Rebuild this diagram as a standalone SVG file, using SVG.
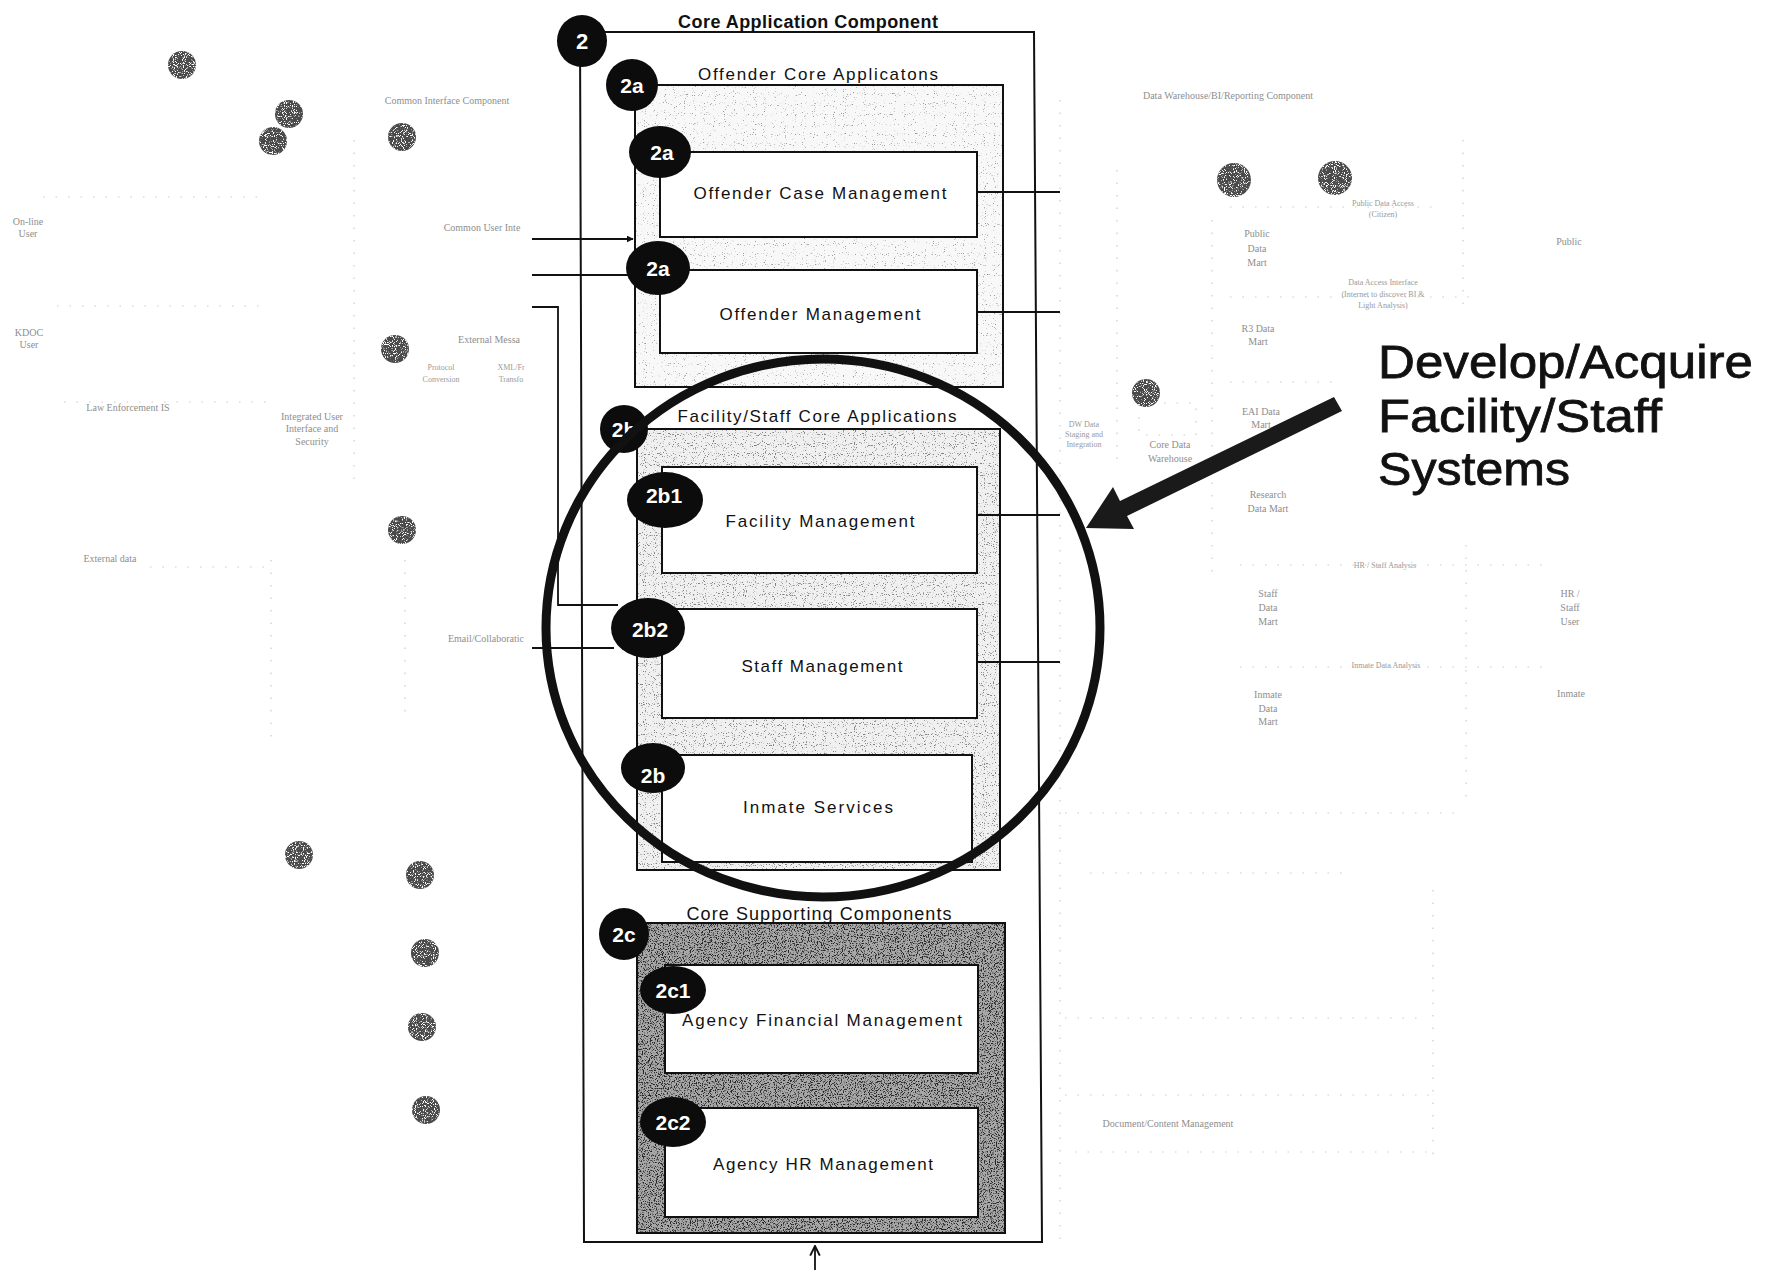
<svg xmlns="http://www.w3.org/2000/svg" width="1767" height="1270" viewBox="0 0 1767 1270">
  <defs>
    <style>
      .box { fill: #fff; stroke: #111; stroke-width: 2; }
      .frame { fill: none; stroke: #111; stroke-width: 2; }
      .lbl { font-family: "Liberation Sans", Arial, sans-serif; font-size: 17px; fill: #111; text-anchor: middle; }
      .ttl { font-family: "Liberation Sans", Arial, sans-serif; font-size: 17px; fill: #111; text-anchor: middle; }
      .badge ellipse { fill: #0c0c0c; }
      .badge text { font-family: "Liberation Sans", Arial, sans-serif; font-weight: bold; font-size: 21px; fill: #fff; text-anchor: middle; }
      .ghost { fill: #4a4a4a; filter: url(#speckle); }
      .faint { font-family: "Liberation Serif", "Times New Roman", serif; font-size: 10px; fill: #8e8e8e; text-anchor: middle; }
      .faint-s { font-family: "Liberation Serif", "Times New Roman", serif; font-size: 8px; fill: #9a9a9a; text-anchor: middle; }
      .dots { fill: none; stroke: #cccccc; stroke-width: 1.2; stroke-dasharray: 1.5 11; }
      .wire { fill: none; stroke: #111; stroke-width: 1.8; }
      .callout { font-family: "Liberation Sans", Arial, sans-serif; font-size: 47px; fill: #111; stroke: #111; stroke-width: 0.8; }
    </style>
    <!-- sparse grey grain for the light application groups -->
    <filter id="grainLight" x="0" y="0" width="1" height="1" color-interpolation-filters="sRGB">
      <feTurbulence type="fractalNoise" baseFrequency="0.9" numOctaves="1" seed="2" result="t"/>
      <feColorMatrix in="t" type="matrix" values="0 0 0 0 0.6  0 0 0 0 0.6  0 0 0 0 0.6  10 0 0 0 -6.5" result="d"/>
      <feComposite in="d" in2="SourceAlpha" operator="in" result="m"/>
      <feMerge><feMergeNode in="SourceGraphic"/><feMergeNode in="m"/></feMerge>
    </filter>
    <filter id="grainMid" x="0" y="0" width="1" height="1" color-interpolation-filters="sRGB">
      <feTurbulence type="fractalNoise" baseFrequency="0.9" numOctaves="1" seed="5" result="t"/>
      <feColorMatrix in="t" type="matrix" values="0 0 0 0 0.5  0 0 0 0 0.5  0 0 0 0 0.5  10 0 0 0 -6.1" result="d"/>
      <feComposite in="d" in2="SourceAlpha" operator="in" result="m"/>
      <feMerge><feMergeNode in="SourceGraphic"/><feMergeNode in="m"/></feMerge>
    </filter>
    <!-- dense dark grain for the supporting components group -->
    <filter id="grainDark" x="0" y="0" width="1" height="1" color-interpolation-filters="sRGB">
      <feTurbulence type="fractalNoise" baseFrequency="0.85" numOctaves="2" seed="9" result="t"/>
      <feColorMatrix in="t" type="matrix" values="0 0 0 0 0.15  0 0 0 0 0.15  0 0 0 0 0.15  7 0 0 0 -3.6" result="d"/>
      <feComposite in="d" in2="SourceAlpha" operator="in" result="m"/>
      <feMerge><feMergeNode in="SourceGraphic"/><feMergeNode in="m"/></feMerge>
    </filter>
    <filter id="speckle" x="0" y="0" width="1" height="1" color-interpolation-filters="sRGB">
      <feTurbulence type="fractalNoise" baseFrequency="1.1" numOctaves="1" seed="3" result="t"/>
      <feColorMatrix in="t" type="matrix" values="0 0 0 0 1  0 0 0 0 1  0 0 0 0 1  9 0 0 0 -4.9" result="d"/>
      <feComposite in="d" in2="SourceAlpha" operator="in" result="m"/>
      <feMerge><feMergeNode in="SourceGraphic"/><feMergeNode in="m"/></feMerge>
    </filter>
    <marker id="tip" viewBox="0 0 10 10" refX="9" refY="5" markerWidth="7" markerHeight="7" markerUnits="userSpaceOnUse" orient="auto">
      <path d="M0,0 L10,5 L0,10 z" fill="#111"/>
    </marker>
    <marker id="tipUp" viewBox="0 0 10 10" refX="9" refY="5" markerWidth="12" markerHeight="12" markerUnits="userSpaceOnUse" orient="auto">
      <path d="M1,1 L9,5 L1,9" fill="none" stroke="#111" stroke-width="1.6"/>
    </marker>
  </defs>

  <rect width="1767" height="1270" fill="#fff"/>

  <!-- faded surrounding architecture: dotted guides -->
  <g id="faded-guides">
    <path class="dots" d="M43,197 H266 M57,306 H268 M64,402 H268 M150,567 H270"/>
    <path class="dots" d="M354,140 V480 M405,560 V720 M271,560 V740"/>
    <path class="dots" d="M1060,100 V1240 M1117,170 V470 M1212,220 V575 M1463,140 V310 M1466,545 V800"/>
    <path class="dots" d="M1230,207 H1440 M1230,297 H1470 M1230,382 H1340 M1240,565 H1545 M1240,667 H1545"/>
    <path class="dots" d="M1065,813 H1465 M1090,873 H1350 M1065,1018 H1420 M1065,1095 H1430 M1075,1152 H1430 M1433,890 V1160"/>
    <rect x="1139" y="403" width="57" height="32" class="dots"/>
  </g>

  <!-- faded surrounding architecture: labels -->
  <g id="faded-labels">
    <text class="faint" x="447" y="104">Common Interface Component</text>
    <text class="faint" x="28" y="225">On-line</text>
    <text class="faint" x="28" y="237">User</text>
    <text class="faint" x="482" y="231">Common User Inte</text>
    <text class="faint" x="29" y="336">KDOC</text>
    <text class="faint" x="29" y="348">User</text>
    <text class="faint" x="489" y="343">External Messa</text>
    <text class="faint-s" x="441" y="370">Protocol</text>
    <text class="faint-s" x="441" y="382">Conversion</text>
    <text class="faint-s" x="511" y="370">XML/Fr</text>
    <text class="faint-s" x="511" y="382">Transfo</text>
    <text class="faint" x="128" y="411">Law Enforcement IS</text>
    <text class="faint" x="312" y="420">Integrated User</text>
    <text class="faint" x="312" y="432">Interface and</text>
    <text class="faint" x="312" y="445">Security</text>
    <text class="faint" x="110" y="562">External data</text>
    <text class="faint" x="486" y="642">Email/Collaboratic</text>

    <text class="faint" x="1228" y="99">Data Warehouse/BI/Reporting Component</text>
    <text class="faint-s" x="1383" y="206">Public Data Access</text>
    <text class="faint-s" x="1383" y="217">(Citizen)</text>
    <text class="faint" x="1257" y="237">Public</text>
    <text class="faint" x="1257" y="252">Data</text>
    <text class="faint" x="1257" y="266">Mart</text>
    <text class="faint" x="1569" y="245">Public</text>
    <text class="faint-s" x="1383" y="285">Data Access Interface</text>
    <text class="faint-s" x="1383" y="297">(Internet to discover BI &amp;</text>
    <text class="faint-s" x="1383" y="308">Light Analysis)</text>
    <text class="faint" x="1258" y="332">R3 Data</text>
    <text class="faint" x="1258" y="345">Mart</text>
    <text class="faint" x="1261" y="415">EAI Data</text>
    <text class="faint" x="1261" y="428">Mart</text>
    <text class="faint-s" x="1084" y="427">DW Data</text>
    <text class="faint-s" x="1084" y="437">Staging and</text>
    <text class="faint-s" x="1084" y="447">Integration</text>
    <text class="faint" x="1170" y="448">Core Data</text>
    <text class="faint" x="1170" y="462">Warehouse</text>
    <text class="faint" x="1268" y="498">Research</text>
    <text class="faint" x="1268" y="512">Data Mart</text>
    <text class="faint-s" x="1385" y="568">HR / Staff Analysis</text>
    <text class="faint" x="1268" y="597">Staff</text>
    <text class="faint" x="1268" y="611">Data</text>
    <text class="faint" x="1268" y="625">Mart</text>
    <text class="faint" x="1570" y="597">HR /</text>
    <text class="faint" x="1570" y="611">Staff</text>
    <text class="faint" x="1570" y="625">User</text>
    <text class="faint-s" x="1386" y="668">Inmate Data Analysis</text>
    <text class="faint" x="1268" y="698">Inmate</text>
    <text class="faint" x="1268" y="712">Data</text>
    <text class="faint" x="1268" y="725">Mart</text>
    <text class="faint" x="1571" y="697">Inmate</text>
    <text class="faint" x="1168" y="1127">Document/Content Management</text>
  </g>

  <!-- faded numbered markers of the surrounding components -->
  <g id="faded-markers">
    <circle class="ghost" cx="182" cy="65" r="14"/>
    <circle class="ghost" cx="289" cy="114" r="14"/>
    <circle class="ghost" cx="273" cy="141" r="14"/>
    <circle class="ghost" cx="402" cy="137" r="14"/>
    <circle class="ghost" cx="395" cy="349" r="14"/>
    <circle class="ghost" cx="402" cy="530" r="14"/>
    <circle class="ghost" cx="299" cy="855" r="14"/>
    <circle class="ghost" cx="420" cy="875" r="14"/>
    <circle class="ghost" cx="425" cy="953" r="14"/>
    <circle class="ghost" cx="422" cy="1027" r="14"/>
    <circle class="ghost" cx="426" cy="1110" r="14"/>
    <circle class="ghost" cx="1234" cy="180" r="17"/>
    <circle class="ghost" cx="1335" cy="178" r="17"/>
    <circle class="ghost" cx="1146" cy="393" r="14"/>
  </g>

  <!-- Core Application Component container -->
  <g id="core-application">
    <polygon class="frame" points="580,32 1034,32 1042,1242 584,1242"/>
    <text x="808" y="28" textLength="260" lengthAdjust="spacing" style="font-family:'Liberation Sans',Arial,sans-serif;font-size:18px;font-weight:bold;fill:#111;text-anchor:middle">Core Application Component</text>
  </g>

  <!-- 2a: Offender Core Applications -->
  <g id="offender-core">
    <rect x="635" y="85" width="368" height="302" fill="#f8f8f8" filter="url(#grainLight)"/>
    <rect x="635" y="85" width="368" height="302" class="frame"/>
    <text class="ttl" x="818" y="80" textLength="240" lengthAdjust="spacing">Offender Core Applicatons</text>
  </g>
  <g id="offender-case-management">
    <rect class="box" x="660" y="152" width="317" height="85"/>
    <text class="lbl" x="820" y="199" textLength="253" lengthAdjust="spacing">Offender Case Management</text>
  </g>
  <g id="offender-management">
    <rect class="box" x="660" y="270" width="317" height="83"/>
    <text class="lbl" x="820" y="320" textLength="201" lengthAdjust="spacing">Offender Management</text>
  </g>

  <!-- 2b: Facility/Staff Core Applications -->
  <g id="facility-staff-core">
    <rect x="637" y="429" width="363" height="441" fill="#f0f0f0" filter="url(#grainMid)"/>
    <rect x="637" y="429" width="363" height="441" class="frame"/>
    <text class="ttl" x="817" y="422" textLength="279" lengthAdjust="spacing">Facility/Staff Core Applications</text>
  </g>
  <g id="facility-management">
    <rect class="box" x="662" y="467" width="315" height="106"/>
    <text class="lbl" x="820" y="527" textLength="189" lengthAdjust="spacing">Facility Management</text>
  </g>
  <g id="staff-management">
    <rect class="box" x="662" y="609" width="315" height="109"/>
    <text class="lbl" x="822" y="672" textLength="161" lengthAdjust="spacing">Staff Management</text>
  </g>
  <g id="inmate-services">
    <rect class="box" x="662" y="755" width="310" height="107"/>
    <text class="lbl" x="818" y="813" textLength="150" lengthAdjust="spacing">Inmate Services</text>
  </g>

  <!-- 2c: Core Supporting Components -->
  <g id="core-supporting">
    <rect x="637" y="923" width="368" height="310" fill="#a8a8a8" filter="url(#grainDark)"/>
    <rect x="637" y="923" width="368" height="310" class="frame"/>
    <text x="819" y="920" textLength="265" lengthAdjust="spacing" style="font-family:'Liberation Sans',Arial,sans-serif;font-size:18px;fill:#111;text-anchor:middle">Core Supporting Components</text>
  </g>
  <g id="agency-financial-management">
    <rect class="box" x="665" y="965" width="313" height="108"/>
    <text class="lbl" x="822" y="1026" textLength="280" lengthAdjust="spacing">Agency Financial Management</text>
  </g>
  <g id="agency-hr-management">
    <rect class="box" x="665" y="1108" width="313" height="109"/>
    <text class="lbl" x="823" y="1170" textLength="220" lengthAdjust="spacing">Agency HR Management</text>
  </g>

  <!-- connectors -->
  <g id="connectors">
    <line class="wire" x1="532" y1="239" x2="633" y2="239" marker-end="url(#tip)"/>
    <line class="wire" x1="532" y1="275" x2="628" y2="275"/>
    <polyline class="wire" points="532,307 558,307 558,605 618,605"/>
    <line class="wire" x1="532" y1="648" x2="614" y2="648"/>
    <line class="wire" x1="978" y1="192" x2="1060" y2="192"/>
    <line class="wire" x1="978" y1="312" x2="1060" y2="312"/>
    <line class="wire" x1="978" y1="515" x2="1060" y2="515"/>
    <line class="wire" x1="978" y1="662" x2="1060" y2="662"/>
    <line class="wire" x1="815" y1="1270" x2="815" y2="1246" marker-end="url(#tipUp)"/>
  </g>

  <!-- numbered badges -->
  <g id="badges" class="badge">
    <g id="badge-2"><ellipse cx="582" cy="41" rx="25" ry="26"/><text x="582" y="49" style="font-size:22px">2</text></g>
    <g id="badge-2a"><ellipse cx="632" cy="85" rx="26" ry="26"/><text x="632" y="93">2a</text></g>
    <g id="badge-2a-case"><ellipse cx="660" cy="152" rx="31" ry="26"/><text x="662" y="160">2a</text></g>
    <g id="badge-2a-offender"><ellipse cx="658" cy="268" rx="32" ry="27"/><text x="658" y="276">2a</text></g>
    <g id="badge-2b"><ellipse cx="624" cy="429" rx="24" ry="24"/><text x="624" y="437">2b</text></g>
    <g id="badge-2b1"><ellipse cx="665" cy="500" rx="38" ry="28"/><text x="664" y="503">2b1</text></g>
    <g id="badge-2b2"><ellipse cx="648" cy="628" rx="37" ry="30"/><text x="650" y="637">2b2</text></g>
    <g id="badge-2b-inmate"><ellipse cx="653" cy="768" rx="32" ry="25"/><text x="653" y="783">2b</text></g>
    <g id="badge-2c"><ellipse cx="624" cy="934" rx="25" ry="26"/><text x="624" y="942">2c</text></g>
    <g id="badge-2c1"><ellipse cx="673" cy="990" rx="33" ry="24"/><text x="673" y="998">2c1</text></g>
    <g id="badge-2c2"><ellipse cx="673" cy="1122" rx="33" ry="25"/><text x="673" y="1130">2c2</text></g>
  </g>

  <!-- highlight ring and pointer -->
  <g id="highlight">
    <ellipse cx="823" cy="628" rx="277" ry="269" fill="none" stroke="#111" stroke-width="9"/>
    <polygon points="1342,411 1127,516 1134,529 1086,528 1113,487 1120,501 1334,397" fill="#1a1a1a"/>
  </g>

  <g id="callout">
    <text class="callout" x="1378" y="378" textLength="375" lengthAdjust="spacingAndGlyphs">Develop/Acquire</text>
    <text class="callout" x="1378" y="432" textLength="284" lengthAdjust="spacingAndGlyphs">Facility/Staff</text>
    <text class="callout" x="1378" y="485" textLength="192" lengthAdjust="spacingAndGlyphs">Systems</text>
  </g>
</svg>
